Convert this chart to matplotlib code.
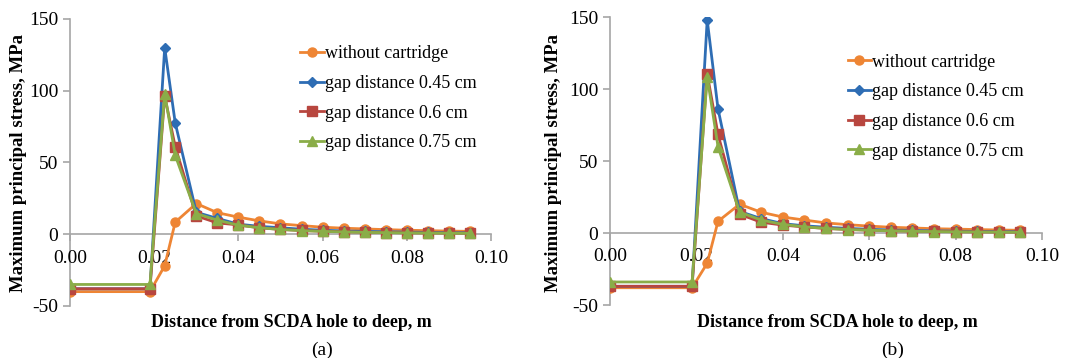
import matplotlib
matplotlib.use("Agg")
import matplotlib.pyplot as plt
import numpy as np

plt.rcParams["font.family"] = ["Liberation Serif", "DejaVu Serif"]
plt.rcParams["axes.unicode_minus"] = False

# distance from the hole, m
depth = [0.0, 0.019, 0.0225, 0.025, 0.030, 0.035, 0.040, 0.045, 0.050, 0.055,
         0.060, 0.065, 0.070, 0.075, 0.080, 0.085, 0.090, 0.095]

series_labels = ["without cartridge", "gap distance 0.45 cm",
                 "gap distance 0.6 cm", "gap distance 0.75 cm"]

# (a)
a_without = [-40, -40, -22, 8.4, 21.4, 15, 11.9, 9.3, 7.2, 6.0, 4.9, 4.2, 3.7, 3.2, 2.8, 2.5, 2.2, 2.0]
a_gap045 = [-38, -38, 130, 77.6, 15.3, 11, 7, 5.5, 4.5, 3.5, 2.8, 2.3, 2.0, 1.7, 1.5, 1.3, 1.1, 1.0]
a_gap060 = [-38, -38, 96.3, 61, 12.8, 7.9, 6.5, 4.5, 3.4, 2.6, 2.1, 1.7, 1.4, 1.2, 1.0, 0.9, 0.8, 0.7]
a_gap075 = [-35, -35, 98, 55, 14.4, 9.8, 6.3, 4.5, 3.3, 2.5, 2.0, 1.6, 1.3, 1.1, 0.9, 0.8, 0.7, 0.6]

# (b)
b_without = [-38, -38, -21, 8.1, 20, 14.4, 11.1, 9.0, 7.0, 5.8, 4.8, 4.0, 3.5, 3.0, 2.7, 2.4, 2.1, 1.9]
b_gap045 = [-37, -37, 148, 86.3, 15, 10, 6.5, 5.0, 4.0, 3.2, 2.6, 2.1, 1.8, 1.5, 1.3, 1.1, 1.0, 0.9]
b_gap060 = [-37, -37, 110.6, 68.5, 13, 7.5, 5.5, 4.2, 3.2, 2.5, 2.0, 1.6, 1.3, 1.1, 0.9, 0.8, 0.7, 0.6]
b_gap075 = [-34, -34, 108.5, 60, 14.5, 9, 6, 4.3, 3.2, 2.4, 1.9, 1.5, 1.2, 1.0, 0.8, 0.7, 0.6, 0.5]

colors = ["#EE8534", "#2E6DB4", "#B8463F", "#8AAD48"]
markers = ["o", "D", "s", "^"]
msizes = [6.5, 5, 6.5, 7]

fig = plt.figure(figsize=(10.73, 3.58), dpi=100)

panels = [
    ([0.0652, 0.1453, 0.3924, 0.8017], [a_without, a_gap045, a_gap060, a_gap075], "(a)",
     (0.280, 0.873), (0.017, 0.544), (0.272, 0.098), (0.300, 0.022)),
    ([0.5685, 0.1480, 0.4026, 0.8045], [b_without, b_gap045, b_gap060, b_gap075], "(b)",
     (0.790, 0.850), (0.516, 0.544), (0.780, 0.098), (0.832, 0.022)),
]

for rect, data, tag, leg_pos, ylab_pos, xlab_pos, tag_pos in panels:
    ax = fig.add_axes(rect)
    for vals, lab, c, m, ms in zip(data, series_labels, colors, markers, msizes):
        ax.plot(depth, vals, color=c, marker=m, markersize=ms, linewidth=2,
                label=lab, markeredgecolor=c)

    ax.set_xlim(0, 0.10)
    ax.set_ylim(-50, 150)
    ax.set_yticks(np.arange(-50, 151, 50))
    ax.set_xticks(np.arange(0, 0.101, 0.02))
    ax.set_xticklabels(["%.2f" % v for v in np.arange(0, 0.101, 0.02)])

    ax.spines["top"].set_visible(False)
    ax.spines["right"].set_visible(False)
    ax.spines["bottom"].set_position(("data", 0))
    for s in ("left", "bottom"):
        ax.spines[s].set_color("#A6A6A6")
        ax.spines[s].set_linewidth(1.2)
        ax.spines[s].set_zorder(0.5)
    ax.tick_params(axis="both", colors="#A6A6A6", labelcolor="black",
                   labelsize=14, length=5, width=1.2, direction="out")
    ax.tick_params(axis="x", pad=6)
    ax.set_facecolor("none")

    ax.legend(loc="upper left", bbox_to_anchor=leg_pos,
              bbox_transform=fig.transFigure, frameon=False,
              fontsize=13, handlelength=1.3, handletextpad=0.05,
              labelspacing=0.7, borderaxespad=0, borderpad=0)

    fig.text(*ylab_pos, "Maximum principal stress, MPa", rotation=90,
             fontsize=13.5, fontweight="bold", ha="center", va="center")
    fig.text(*xlab_pos, "Distance from SCDA hole to deep, m",
             fontsize=13, fontweight="bold", ha="center", va="center")
    fig.text(*tag_pos, tag, fontsize=14, ha="center", va="center")

fig.savefig("out.png", dpi=100)
